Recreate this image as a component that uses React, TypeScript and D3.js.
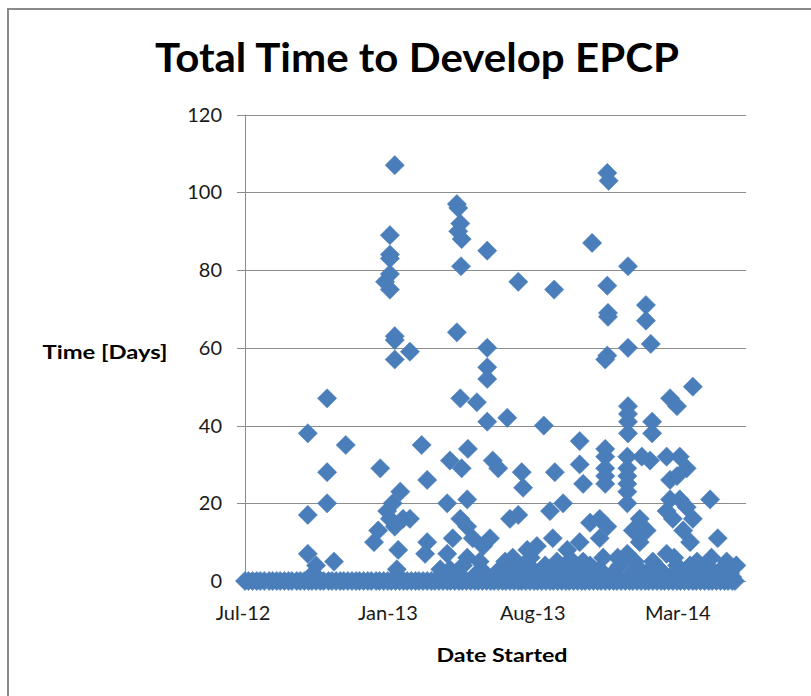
import React, { useEffect, useRef } from "react";
import * as d3 from "d3";

const chartTitle = "Total Time to Develop EPCP";
const xAxisTitle = "Date Started";
const yAxisTitle = "Time [Days]";
const startDate = "2012-07-01";
const axisEndDays = 726;
const xTickDates = ["2012-07-01", "2013-01-27", "2013-08-25", "2014-03-23"];
const yTicks = [0, 20, 40, 60, 80, 100, 120];

// start dates (days after 2012-07-01) of EPCPs that took 0 days
const zeroTimeStarts = [
  0, 5, 11, 17, 22, 28, 35, 40, 46, 51, 57, 63, 68, 75, 80, 86, 92, 97, 103, 109,
  114, 121, 126, 132, 138, 143, 149, 155, 161, 166, 172, 178, 183, 190, 195, 201,
  207, 212, 218, 224, 230, 235, 241, 247, 252, 258, 264, 270, 275, 281, 287, 293,
  298, 304, 310, 315, 321, 327, 333, 338, 344, 350, 356, 361, 367, 373, 378, 384,
  390, 396, 401, 407, 413, 419, 424, 430, 436, 442, 447, 453, 459, 465, 470, 476,
  482, 488, 493, 499, 505, 511, 516, 522, 528, 534, 539, 545, 551, 557, 562, 568,
  574, 580, 585, 591, 597, 603, 608, 614, 620, 626, 631, 637, 643, 649, 654, 660,
  666, 672, 677, 683, 689, 695, 700, 706, 710,
];

// [start (days after 2012-07-01), total time in days]
const timedEpcps: [number, number][] = [
  [91, 38], [91, 17], [91, 7], [103, 4], [119, 47], [119, 28], [119, 20], [129, 5],
  [146, 35], [99, 2],
  [196, 29], [187, 10], [193, 13], [206, 18], [214, 20], [225, 23], [217, 14],
  [222, 8], [220, 3], [210, 16], [229, 16], [217, 107], [210, 89], [210, 84],
  [210, 83], [210, 79], [203, 77], [210, 75], [217, 63], [217, 62], [217, 57],
  [239, 59], [256, 35], [264, 26], [264, 10], [261, 7], [239, 16],
  [307, 97], [309, 96], [312, 92], [309, 90], [314, 88], [351, 85], [313, 81],
  [307, 64], [351, 60], [351, 55], [351, 52], [312, 47], [336, 46], [351, 41],
  [380, 42], [323, 34], [297, 31], [314, 29], [359, 31], [367, 29], [293, 20],
  [322, 21], [312, 16], [322, 14], [301, 11], [330, 11], [355, 11], [345, 9],
  [293, 7], [322, 6], [297, 3], [336, 2], [369, 3],
  [283, 3], [305, 2], [316, 4], [340, 5], [348, 2],
  [396, 77], [448, 75], [433, 40], [485, 36], [401, 28], [403, 24], [449, 28],
  [442, 18], [461, 20], [384, 16], [396, 17], [388, 6], [409, 8], [423, 9],
  [446, 11], [467, 8], [452, 5], [475, 5], [417, 3], [485, 30], [490, 25],
  [485, 10], [490, 5], [481, 2], [398, 4], [435, 4], [377, 5],
  [380, 2], [392, 4], [405, 3], [414, 6], [428, 2], [440, 3], [456, 2], [463, 4],
  [471, 2], [479, 4], [494, 2], [506, 3],
  [525, 105], [527, 103], [503, 87], [555, 81], [525, 76], [526, 69], [526, 68],
  [581, 71], [581, 67], [522, 57], [525, 58], [555, 60], [588, 61], [649, 50],
  [616, 47], [626, 45], [555, 45], [555, 43], [555, 41], [555, 38], [590, 41],
  [590, 38], [522, 34], [522, 32], [522, 29], [522, 27], [522, 25], [554, 32],
  [554, 29], [554, 27], [554, 25], [554, 23], [554, 20], [575, 32], [587, 31],
  [611, 32], [630, 32], [640, 29], [616, 26], [626, 27], [616, 21], [630, 21],
  [640, 19], [674, 21], [649, 16], [620, 16], [611, 18], [635, 13], [645, 10],
  [685, 11], [514, 16], [500, 15], [525, 14], [514, 11], [572, 16], [562, 13],
  [582, 13], [572, 10], [519, 6], [554, 7], [591, 5], [611, 7], [626, 4],
  [655, 5], [669, 4], [698, 5], [703, 2], [533, 2], [582, 2], [616, 1],
  [543, 4], [565, 5], [601, 3], [645, 4], [681, 2], [514, 3], [500, 4], [572, 3],
  [540, 6], [560, 2], [595, 4], [606, 2], [622, 6], [636, 2], [660, 2], [676, 6],
  [690, 3], [712, 4], [706, 1],
];

const W = 811;
const H = 696;
const FONT = "Lato, 'Open Sans', sans-serif";

export default function App() {
  const ref = useRef<SVGSVGElement>(null);

  useEffect(() => {
    const svg = d3.select(ref.current);
    svg.selectAll("*").remove();

    const parse = d3.timeParse("%Y-%m-%d");
    const t0 = parse(startDate) as Date;
    const x = d3
      .scaleTime()
      .domain([t0, d3.timeDay.offset(t0, axisEndDays)])
      .range([245, 746]);
    const y = d3.scaleLinear().domain([0, 120]).range([581, 114.7]);

    svg.append("rect").attr("x", 0).attr("y", 0).attr("width", W).attr("height", H).attr("fill", "#fff");
    svg
      .append("rect")
      .attr("x", 8)
      .attr("y", 9)
      .attr("width", W + 10)
      .attr("height", H + 10)
      .attr("fill", "none")
      .attr("stroke", "#8a8a8a")
      .attr("stroke-width", 2);

    svg
      .append("text")
      .attr("x", 417)
      .attr("y", 72)
      .attr("text-anchor", "middle")
      .attr("font-family", FONT)
      .attr("font-weight", 700)
      .attr("font-size", 40)
      .attr("textLength", 524)
      .attr("lengthAdjust", "spacingAndGlyphs")
      .text(chartTitle);

    const [x0, x1] = x.range();

    const g = svg.append("g");
    g.selectAll("line.grid")
      .data(yTicks)
      .join("line")
      .attr("x1", 237)
      .attr("x2", x1)
      .attr("y1", (d) => Math.round(y(d)) + 0.5)
      .attr("y2", (d) => Math.round(y(d)) + 0.5)
      .attr("stroke", "#8c8c8c")
      .attr("stroke-width", 1);

    g.append("line")
      .attr("x1", x0 + 0.5)
      .attr("x2", x0 + 0.5)
      .attr("y1", y(120))
      .attr("y2", y(0))
      .attr("stroke", "#8c8c8c");

    g.selectAll("text.ytick")
      .data(yTicks)
      .join("text")
      .attr("x", 222)
      .attr("y", (d) => y(d) + 7)
      .attr("text-anchor", "end")
      .attr("font-family", FONT)
      .attr("font-size", 20)
      .attr("fill", "#1a1a1a")
      .text((d) => String(d));

    const fmt = d3.timeFormat("%b-%y");
    g.selectAll("text.xtick")
      .data(xTickDates.map((s) => parse(s) as Date))
      .join("text")
      .attr("x", (d) => x(d) - 2)
      .attr("y", 620)
      .attr("text-anchor", "middle")
      .attr("font-family", FONT)
      .attr("font-size", 20)
      .attr("fill", "#1a1a1a")
      .text((d) => fmt(d));

    const all: [number, number][] = [
      ...zeroTimeStarts.map((d) => [d, 0] as [number, number]),
      ...timedEpcps,
    ];

    const diamond = d3.symbol().type(d3.symbolSquare).size(185);
    svg
      .append("g")
      .selectAll("path")
      .data(all)
      .join("path")
      .attr("d", diamond as any)
      .attr(
        "transform",
        (d) => `translate(${x(d3.timeDay.offset(t0, d[0]))},${y(d[1])}) rotate(45)`
      )
      .attr("fill", "#4a7ebb")
      .attr("stroke", "#4a7ebb")
      .attr("stroke-width", 0.5);

    svg
      .append("text")
      .attr("x", 105)
      .attr("y", 359)
      .attr("text-anchor", "middle")
      .attr("font-family", FONT)
      .attr("font-weight", 700)
      .attr("font-size", 19)
      .attr("textLength", 125)
      .attr("lengthAdjust", "spacingAndGlyphs")
      .text(yAxisTitle);

    svg
      .append("text")
      .attr("x", 502)
      .attr("y", 662)
      .attr("text-anchor", "middle")
      .attr("font-family", FONT)
      .attr("font-weight", 700)
      .attr("font-size", 19)
      .attr("textLength", 131)
      .attr("lengthAdjust", "spacingAndGlyphs")
      .text(xAxisTitle);
  }, []);

  return (
    <svg
      ref={ref}
      width={W}
      height={H}
      style={{ position: "absolute", left: 0, top: 0, display: "block" }}
    />
  );
}
